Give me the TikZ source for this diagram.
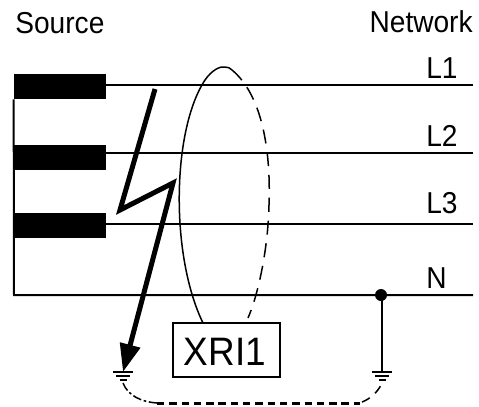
\documentclass[tikz,border=0pt]{standalone}
\usepackage{fontspec}
\setmainfont[FakeStretch=.93]{Liberation Sans}
\usetikzlibrary{arrows.meta}
\tikzset{
  winding/.style={draw=none,fill=black,minimum width=1.84cm,minimum height=.5cm,inner sep=0pt},
  wire/.style={line width=.04cm},
  gnd/.style={line width=.03cm},
  lbl/.style={inner sep=0pt,font=\fontsize{17.2}{17}\selectfont},
  bolt/.style={line width=.1cm,miter limit=10,-{Triangle[length=.56cm,width=.4cm]}}
}
\begin{document}
\begin{tikzpicture}[x=.02cm,y=-.02cm]
  \useasboundingbox (0,0) rectangle (479,406);
  \node [winding] (w1) at (60,86.5) {};
  \node [winding] (w2) at (60,157.5) {};
  \node [winding] (w3) at (60,225.5) {};
  \coordinate (e1) at (473,85);
  \coordinate (e2) at (473,153);
  \coordinate (e3) at (473,224);
  \coordinate (e4) at (473,295);
  \coordinate (corner) at (14,295);
  \draw [wire] (w1.east |- e1)--(e1);
  \draw [wire] (w2.east |- e2)--(e2);
  \draw [wire] (w3.east |- e3)--(e3);
  \draw [wire] (w1.south west)--(corner)--(e4);
  \node [lbl,anchor=base west] (source) at (15,33) {Source};
  \node [lbl,anchor=base east] (network) at (473,32) {Network};
  \node [lbl,anchor=base west] (l1) at (426,78) {L1};
  \node [lbl,anchor=base west] (l2) at (426,146) {L2};
  \node [lbl,anchor=base west] (l3) at (426,213) {L3};
  \node [lbl,anchor=base west] (n) at (426,288) {N};
  \node [draw,line width=.025cm,minimum width=2.14cm,minimum height=1.08cm,inner sep=0pt] (xri) at (226.5,350) {};
  \node [inner sep=0pt,anchor=base,font=\fontsize{22.6}{22}\selectfont] (xrilabel) at (225,365) {XRI1};
  % earth symbols
  \coordinate (g1) at (123,372);
  \coordinate (g2) at (382,372);
  \foreach \g in {g1,g2} {
    \draw [gnd] ([xshift=-.2cm]\g)--([xshift=.2cm]\g);
    \draw [gnd] ([shift={(-.14cm,-.08cm)}]\g)--([shift={(.14cm,-.08cm)}]\g);
    \draw [gnd] ([shift={(-.07cm,-.16cm)}]\g)--([shift={(.07cm,-.16cm)}]\g);
  }
  \node [circle,fill=black,inner sep=0pt,minimum size=.24cm] (dot) at (381,295) {};
  \draw [wire] (dot.center -| g2)--(g2);
  % fault
  \draw [bolt] (155,89)--(120,210)--(173,183)--(g1);
  % core balance loop
  \coordinate (top) at (225,67);
  \draw [line width=.03cm] (203,323) .. controls (170,255) and (172,130) .. (205,80) .. controls (212,70) and (220,66) .. (top) .. controls (228,67) and (230,68) .. (232,70);
  \draw [line width=.03cm,dash pattern=on 8pt off 5pt] (232,70) .. controls (262,95) and (271,150) .. (269,205) .. controls (268,250) and (258,295) .. (248,318);
  % earth link
  \draw [line width=.03cm,dash pattern=on 5pt off 1.5pt on 1.5pt off 1.5pt] (123,383) .. controls (128,396) and (142,402) .. (157,403);
  \draw [line width=.06cm,dash pattern=on 4.2pt off 2.8pt] (157,403)--(360,403);
  \draw [line width=.03cm,dash pattern=on 5pt off 4pt] (362,402) .. controls (370,399) and (378,392) .. (382,383);
\end{tikzpicture}
\end{document}
